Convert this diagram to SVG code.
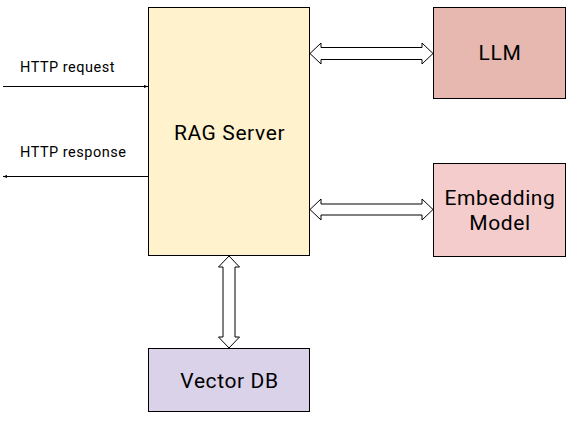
<svg xmlns="http://www.w3.org/2000/svg" width="578" height="426" viewBox="0 0 578 426">
<defs>
<marker id="ah" viewBox="0 0 10 10" refX="10" refY="5" markerWidth="4" markerHeight="4" orient="auto" markerUnits="userSpaceOnUse">
<path d="M0,1 L10,5 L0,9 Z" fill="#000"/>
</marker>
</defs>
<style>
.node{stroke:#000;stroke-width:1}
.lbl{font-family:Roboto,"Liberation Sans",sans-serif;font-size:21px;letter-spacing:0.6px;fill:#000;text-anchor:middle}
.small{font-family:Roboto,"Liberation Sans",sans-serif;font-size:14.5px;letter-spacing:0.5px;fill:#000}
.dbl{fill:#fff;stroke:#000;stroke-width:1}
.ln{stroke:#000;stroke-width:1;fill:none}
</style>
<rect width="578" height="426" fill="#fff"/>
<g id="rag-server">
<rect class="node" x="148.5" y="7.5" width="161" height="248" fill="#fff2cc"/>
<text class="lbl" x="229.5" y="140">RAG Server</text>
</g>
<g id="llm">
<rect class="node" x="433.5" y="7.5" width="132" height="91" fill="#e6b8af"/>
<text class="lbl" x="500" y="60">LLM</text>
</g>
<g id="embedding-model">
<rect class="node" x="433.5" y="163.5" width="132" height="93" fill="#f4cccc"/>
<text class="lbl" x="500" y="205">Embedding</text>
<text class="lbl" x="500" y="230">Model</text>
</g>
<g id="vector-db">
<rect class="node" x="148.5" y="348.5" width="161" height="63" fill="#d9d2e9"/>
<text class="lbl" x="229.5" y="388">Vector DB</text>
</g>
<g id="connectors">
<line class="ln" x1="3" y1="86.5" x2="148" y2="86.5" marker-end="url(#ah)"/>
<line class="ln" x1="148" y1="176.5" x2="3" y2="176.5" marker-end="url(#ah)"/>
<path class="dbl" d="M310,53.5 L321,43 L321,47.5 L422,47.5 L422,43 L433,53.5 L422,64 L422,59.5 L321,59.5 L321,64 Z"/>
<path class="dbl" d="M310,209.5 L321,199 L321,204 L422,204 L422,199 L433,209.5 L422,220 L422,215 L321,215 L321,220 Z"/>
<path class="dbl" d="M229,256 L239.5,267 L235,267 L235,337 L239.5,337 L229,348 L218.5,337 L223,337 L223,267 L218.5,267 Z"/>
</g>
<text class="small" x="20" y="72">HTTP request</text>
<text class="small" x="20" y="157">HTTP response</text>
</svg>
